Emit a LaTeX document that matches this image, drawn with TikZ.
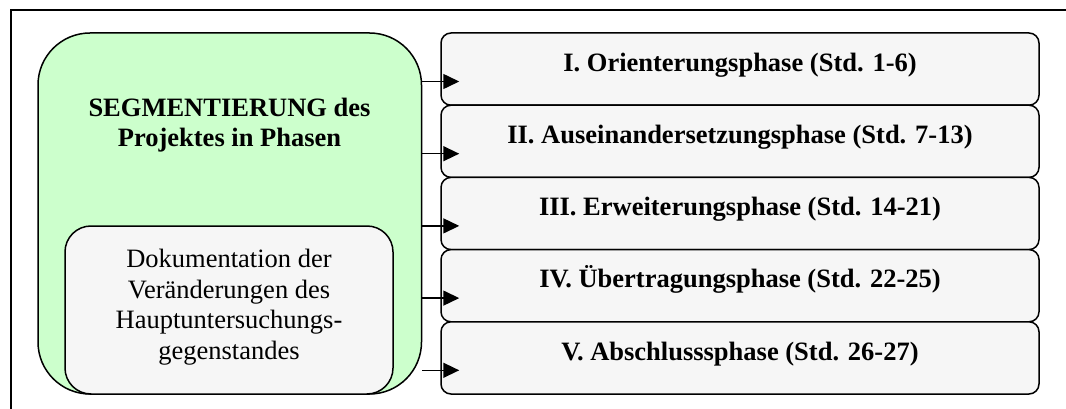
\documentclass[tikz,border=0pt]{standalone}
\usepackage{fontspec}
\setmainfont{Liberation Serif}
\usetikzlibrary{arrows.meta}
\definecolor{segGreen}{HTML}{CCFFCC}
\definecolor{boxGray}{HTML}{F6F6F6}
\begin{document}
\begin{tikzpicture}[x=1pt,y=-1pt,
  outline/.style={draw=black,line width=1.5pt},
  bigfont/.style={font=\fontsize{26.5}{30.4}\selectfont},
  boldfont/.style={font=\fontsize{26.5}{30.4}\selectfont\bfseries},
  phasebox/.style={outline,fill=boxGray,rounded corners=10pt,
    minimum width=598pt,minimum height=72.2pt,inner sep=0pt,
    text height=20.5pt,text depth=16.2pt,boldfont},
  link/.style={line width=1.5pt,-{Triangle[length=16pt,width=15pt]},shorten >=-19pt}
]
\useasboundingbox (0,0) rectangle (1066,409);
% frame (top and left edges)
\draw[line width=1.5pt] (1066,10) -- (11,10) -- (11,409);

% segmentation block with the documentation box inside
\node[outline,fill=segGreen,rounded corners=52pt,minimum width=383.5pt,
  minimum height=361pt,inner sep=0pt] (seg) at (229.75,213.5) {};
\node[boldfont,align=center,anchor=base]
  (segtitle) at (229.5,147) {SEGMENTIERUNG des\\Projektes in Phasen};
\node[outline,fill=boxGray,rounded corners=26pt,minimum width=328pt,
  minimum height=168pt,inner sep=0pt] (doc) at (229,310) {};
\node[bigfont,align=center,anchor=base] (doctext) at (229,359)
  {Dokumentation der\\Veränderungen des\\Hauptuntersuchungs-\\gegenstandes};

% phases
\node[phasebox] (p1) at (740,69.1)  {I. Orienterungsphase (Std. 1-6)};
\node[phasebox] (p2) at (740,141.3) {II. Auseinandersetzungsphase (Std. 7-13)};
\node[phasebox] (p3) at (740,213.5) {III. Erweiterungsphase (Std. 14-21)};
\node[phasebox] (p4) at (740,285.7) {IV. Übertragungsphase (Std. 22-25)};
\node[phasebox] (p5) at (740,357.9) {V. Abschlusssphase (Std. 26-27)};

% arrows from the segmentation block to each phase
\foreach \i in {1,...,5}{
  \coordinate (a\i) at ([yshift=-12.4pt]p\i.west);
  \draw[link] (seg.east |- a\i) -- (a\i);
}
\end{tikzpicture}
\end{document}
